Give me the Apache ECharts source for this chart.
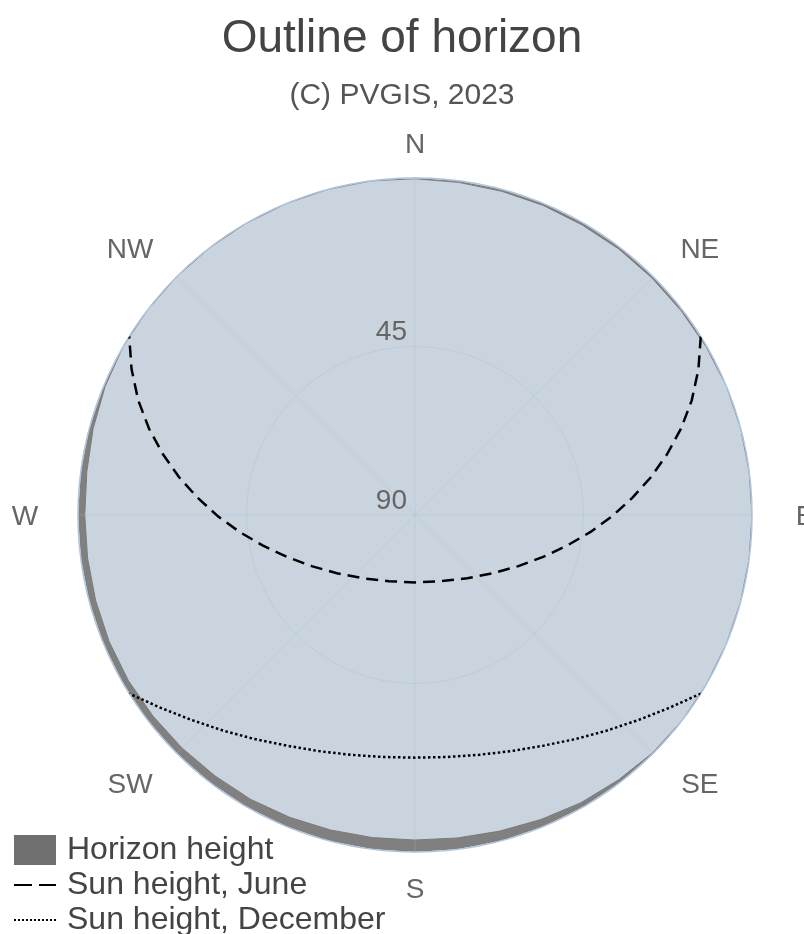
<!DOCTYPE html>
<html>
<head>
<meta charset="utf-8">
<script src="https://cdn.jsdelivr.net/npm/echarts@6/dist/echarts.min.js"></script>
<style>
  html, body { margin: 0; padding: 0; background: #fff; }
  #chart { width: 804px; height: 934px; }
</style>
</head>
<body>
<div id="chart"></div>
<script>
// compass labels, one every 45 degrees from north
const directions = ["N", "NE", "E", "SE", "S", "SW", "W", "NW"];

// horizon profile (azimuth from north, degrees / height, degrees)
const horizonAzimuth = [0, 7.5, 15, 22.5, 30, 37.5, 45, 52.5, 60, 67.5, 75, 82.5, 90, 97.5, 105, 112.5,
  120, 127.5, 135, 142.5, 150, 157.5, 165, 172.5, 180, 187.5, 195, 202.5, 210, 217.5, 225, 232.5,
  240, 247.5, 255, 262.5, 270, 277.5, 285, 292.5, 300, 307.5, 315, 322.5, 330, 337.5, 345, 352.5, 360];
const horizonHeight = [0.2, 0.4, 0.5, 0.5, 0.6, 0.5, 0.5, 0.4, 0.2, 0, 0, 0, 0, 0, 0, 0,
  0, 0, 0.2, 0.8, 1.3, 2.0, 2.6, 3.0, 3.2, 3.1, 2.9, 2.6, 2.3, 2.2, 2.0, 1.8,
  1.6, 1.6, 1.7, 1.8, 1.8, 1.6, 1.0, 0.4, 0, 0, 0, 0, 0, 0, 0, 0, 0.2];

// sun path in June
const juneAzimuth = [58.0, 62.8, 67.5, 72.0, 76.4, 80.9, 85.5, 90.4, 95.6, 101.4, 108.1, 116.3, 126.7, 140.5, 158.4,
  180, 201.6, 219.5, 233.3, 243.7, 251.9, 258.6, 264.4, 269.6, 274.5, 279.1, 283.6, 288.0, 292.5, 297.2, 302.0];
const juneHeight = [0, 4.9, 10.0, 15.3, 20.7, 26.2, 31.8, 37.4, 43.0, 48.6, 54.0, 59.2, 64.0, 68.1, 71.0,
  72.0, 71.0, 68.1, 64.0, 59.2, 54.0, 48.6, 43.0, 37.4, 31.8, 26.2, 20.7, 15.3, 10.0, 4.9, 0];

// sun path in December
const decAzimuth = [122.0, 127.1, 132.5, 138.3, 144.4, 150.9, 157.8, 165.0, 172.4, 180,
  187.6, 195.0, 202.2, 209.1, 215.6, 221.7, 227.5, 232.9, 238.0];
const decHeight = [0, 4.7, 9.0, 12.9, 16.4, 19.5, 21.9, 23.7, 24.8, 25.2,
  24.8, 23.7, 21.9, 19.5, 16.4, 12.9, 9.0, 4.7, 0];

const font = "Arial, 'Liberation Sans', sans-serif";

// polar series take [radius, angle]
function pairs(az, h) {
  return az.map((a, i) => [h[i], a]);
}

var myChart = echarts.init(document.getElementById("chart"));
var option;

option = {
  animation: false,
  title: {
    text: "Outline of horizon",
    subtext: "(C) PVGIS, 2023",
    left: "center",
    top: 11,
    itemGap: 19,
    textStyle: { fontSize: 46, fontWeight: "normal", color: "#444", fontFamily: font },
    subtextStyle: { fontSize: 30, color: "#555", fontFamily: font },
  },
  legend: {
    orient: "vertical",
    left: 13,
    top: 834,
    height: 120,
    padding: 0,
    itemWidth: 42,
    itemHeight: 30,
    itemGap: 3,
    data: [
      { name: "Horizon height", icon: "rect" },
      { name: "Sun height, June", itemStyle: { opacity: 0 }, lineStyle: { type: [18, 7], width: 2 } },
      { name: "Sun height, December", itemStyle: { opacity: 0 }, lineStyle: { type: [2, 2], width: 2 } },
    ],
    textStyle: { fontSize: 32, color: "#444", fontFamily: font, padding: [0, 0, 0, 6] },
  },
  polar: {
    center: [415, 515],
    radius: 337,
  },
  angleAxis: {
    type: "value",
    min: 0,
    max: 360,
    interval: 45,
    startAngle: 90,
    clockwise: true,
    z: 3,
    axisLine: { show: true, lineStyle: { color: "#b0c4de", width: 1.5 } },
    axisTick: { show: false },
    axisLabel: {
      margin: 22,
      formatter: (v) => (v >= 360 ? "" : "{d|" + directions[Math.round(v / 45)] + "}"),
      rich: {
        d: {
          width: 62, height: 22, padding: [5, 0, 0, 0],
          align: "center", verticalAlign: "middle",
          fontSize: 28, color: "#666", fontFamily: font,
        },
      },
    },
    splitLine: { show: true, lineStyle: { color: "rgba(170, 185, 200, 0.35)", width: 1 } },
  },
  radiusAxis: {
    type: "value",
    min: 0,
    max: 90,
    interval: 45,
    inverse: true,
    z: 3,
    axisLine: { show: false },
    axisTick: { show: false },
    axisLabel: {
      margin: 8,
      fontSize: 28,
      color: "#666",
      fontFamily: font,
      verticalAlign: "bottom",
      formatter: (v) => (v === 0 ? "" : String(v)),
    },
    splitLine: { show: true, lineStyle: { color: "rgba(170, 185, 200, 0.35)", width: 1 } },
  },
  series: [
    {
      name: "sky",
      type: "line",
      coordinateSystem: "polar",
      data: pairs(horizonAzimuth, horizonHeight),
      symbol: "none",
      silent: true,
      z: 1,
      lineStyle: { opacity: 0 },
      areaStyle: { color: "#c9d4de", opacity: 1, origin: "end" },
    },
    {
      name: "Horizon height",
      type: "line",
      coordinateSystem: "polar",
      data: pairs(horizonAzimuth, horizonHeight),
      symbol: "none",
      silent: true,
      z: 2,
      itemStyle: { color: "#707070" },
      lineStyle: { color: "#7a7a7a", width: 1 },
      areaStyle: { color: "#808080", opacity: 1, origin: "start" },
    },
    {
      name: "Sun height, June",
      type: "line",
      coordinateSystem: "polar",
      data: pairs(juneAzimuth, juneHeight),
      symbol: "none",
      silent: true,
      z: 5,
      itemStyle: { color: "#000" },
      lineStyle: { color: "#000", width: 2.5, type: [12, 7] },
    },
    {
      name: "Sun height, December",
      type: "line",
      coordinateSystem: "polar",
      data: pairs(decAzimuth, decHeight),
      symbol: "none",
      silent: true,
      z: 5,
      itemStyle: { color: "#000" },
      lineStyle: { color: "#000", width: 2.5, type: [2.5, 2.5] },
    },
  ],
};

option && myChart.setOption(option);
</script>
</body>
</html>
